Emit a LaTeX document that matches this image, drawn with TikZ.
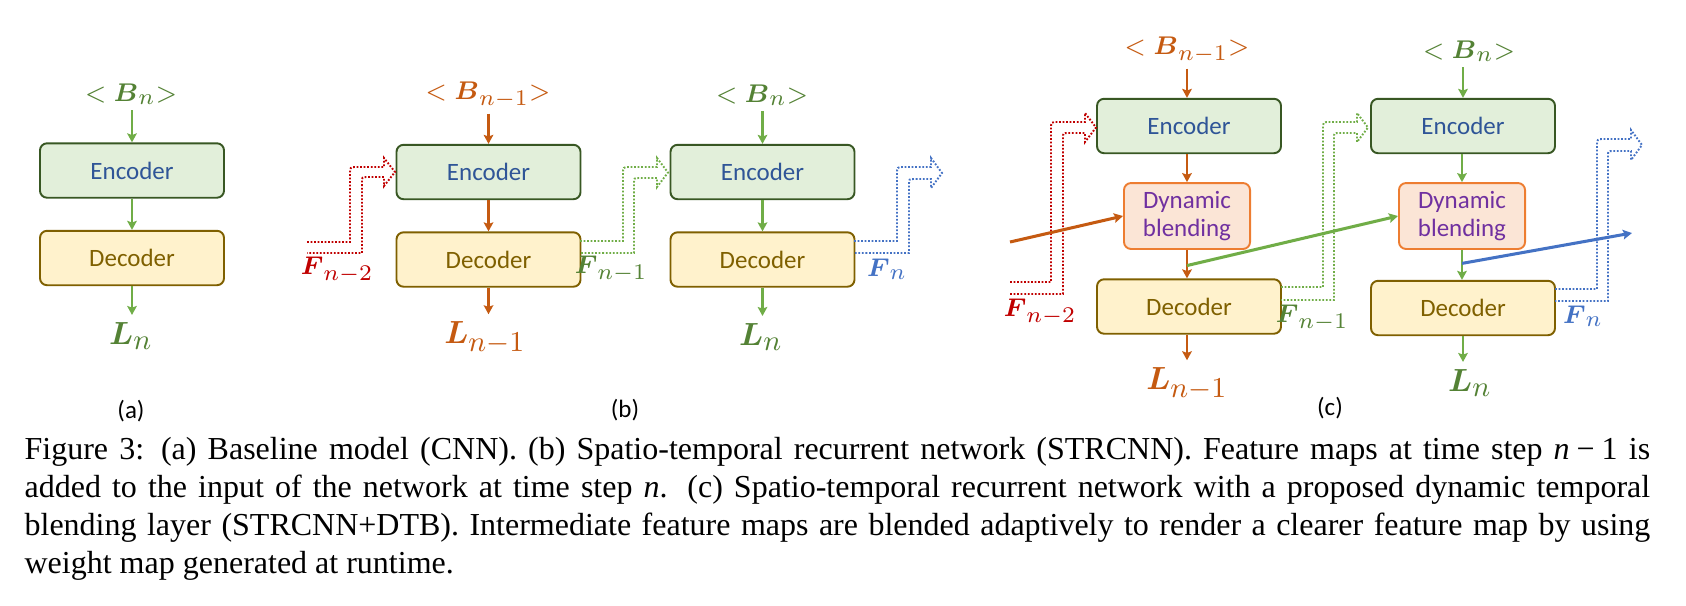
\documentclass[tikz,border=0pt]{standalone}
\usepackage{amsmath}
\usepackage{fontspec}
\newfontfamily\calfont{Carlito}
\newfontfamily\capfont{Liberation Serif}
\DeclareMathSizes{8.4}{8.4}{7}{5.5}
\DeclareMathSizes{10.4}{10.4}{8.6}{6.5}
\DeclareMathSizes{8}{8}{6.8}{5.2}
\usetikzlibrary{arrows.meta,calc}
\definecolor{encfill}{HTML}{E2EFDA}
\definecolor{encdraw}{HTML}{385723}
\definecolor{enctext}{HTML}{2F5597}
\definecolor{decfill}{HTML}{FFF2CC}
\definecolor{decdraw}{HTML}{7F6000}
\definecolor{dectext}{HTML}{7F6000}
\definecolor{dbfill}{HTML}{FBE5D6}
\definecolor{dbdraw}{HTML}{ED7D31}
\definecolor{dbtext}{HTML}{7030A0}
\definecolor{cgreen}{HTML}{70AD47}
\definecolor{lgreen}{HTML}{548235}
\definecolor{corange}{HTML}{C55A11}
\definecolor{cred}{HTML}{C00000}
\definecolor{cblue}{HTML}{4472C4}
\newcommand\bentarr[9]{%
  \draw[fdot,#1] (#2,#3) -- (#5,#3) -- (#5,{#7+7}) .. controls (#5,#7) .. ({#5+7},#7)
    -- (#9,#7) -- (#9,{#7-9}) -- ({#9+11},{(#7+#8)/2}) -- (#9,{#8+9}) -- (#9,#8)
    -- ({#6+5},#8) .. controls (#6,#8) .. (#6,{#8+5}) -- (#6,#4) -- (#2,#4);}
\begin{document}
\begin{tikzpicture}[x=0.3125pt,y=-0.3125pt,
  boxbase/.style={rounded corners=2.2pt, line width=0.6pt, inner sep=0pt,
    font=\calfont\fontsize{7.8}{8.8}\selectfont},
  enc/.style={boxbase, draw=encdraw, fill=encfill, text=enctext, minimum width=57.5pt, minimum height=17pt},
  dec/.style={boxbase, draw=decdraw, fill=decfill, text=dectext, minimum width=57.5pt, minimum height=17pt},
  dbl/.style={boxbase, draw=dbdraw, fill=dbfill, text=dbtext, minimum width=39.4pt, minimum height=20.6pt, align=center},
  labB/.style={inner sep=1.6pt, font=\fontsize{8.4}{9}\selectfont},
  labL/.style={inner sep=2.2pt, font=\fontsize{10.4}{11}\selectfont},
  labF/.style={inner sep=0pt, font=\fontsize{8}{9}\selectfont},
  sub/.style={inner sep=0pt, font=\calfont\fontsize{7.8}{9}\selectfont},
  arr/.style={-{Stealth[length=2.8pt,width=3pt,inset=0.5pt]}, line width=0.85pt},
  fdot/.style={line width=0.6pt, dash pattern=on 0.55pt off 0.55pt},
  capline/.style={anchor=base west, inner sep=0pt, font=\capfont\fontsize{10}{12}\selectfont}
]
\useasboundingbox (0,0) rectangle (1686,605);

% ---------- (a) ----------
\node[labB, text=lgreen] (aB) at (131,94) {$<\boldsymbol{B}_n{>}$};
\node[enc] (aE) at (132,170.5) {Encoder};
\node[dec] (aD) at (132,258) {Decoder};
\node[labL, text=lgreen] (aL) at (131,336) {$\boldsymbol{L}_n$};
\node[sub] (acap) at (131,411) {(a)};
\draw[arr, cgreen] (aE.north |- aB.south) -- (aE.north);
\draw[arr, cgreen] (aE.south) -- (aD.north);
\draw[arr, cgreen] (aD.south) -- (aD.south |- aL.north);

% ---------- (b) left ----------
\node[labB, text=corange] (b1B) at (488,95) {$<\boldsymbol{B}_{n-1}{>}$};
\node[enc] (b1E) at (488.5,172) {Encoder};
\node[dec] (b1D) at (488.5,259.5) {Decoder};
\node[labL, text=corange] (b1L) at (485,338) {$\boldsymbol{L}_{n-1}$};
\draw[arr, corange] (b1E.north |- b1B.south) -- (b1E.north);
\draw[arr, corange] (b1E.south) -- (b1D.north);
\draw[arr, corange] (b1D.south) -- (b1D.south |- b1L.north);

% ---------- (b) right ----------
\node[labB, text=lgreen] (b2B) at (762,95) {$<\boldsymbol{B}_n{>}$};
\node[enc] (b2E) at (762.5,172) {Encoder};
\node[dec] (b2D) at (762.5,259.5) {Decoder};
\node[labL, text=lgreen] (b2L) at (761,337) {$\boldsymbol{L}_n$};
\draw[arr, cgreen] (b2E.north |- b2B.south) -- (b2E.north);
\draw[arr, cgreen] (b2E.south) -- (b2D.north);
\draw[arr, cgreen] (b2D.south) -- (b2D.south |- b2L.north);
\node[sub] (bcap) at (625,410) {(b)};

% dotted feature arrows (b)
\bentarr{cred}{307}{242}{253}{350}{362}{167}{177}{384}
\bentarr{cgreen}{580}{241}{253}{623}{634}{167}{178}{657}
\bentarr{cblue}{854}{241}{253}{897}{909}{167}{179}{931}
\node[labF, text=cred] (bF2) at (337,270) {$\boldsymbol{F}_{n-2}$};
\node[labF, text=lgreen] (bF1) at (611,269) {$\boldsymbol{F}_{n-1}$};
\node[labF, text=cblue] (bF0) at (887,269) {$\boldsymbol{F}_{n}$};

% ---------- (c) left ----------
\node[labB, text=corange] (c1B) at (1187,50) {$<\boldsymbol{B}_{n-1}{>}$};
\node[enc] (c1E) at (1189,126) {Encoder};
\node[dbl] (c1M) at (1187,216) {Dynamic\\blending};
\node[dec] (c1D) at (1189,306.5) {Decoder};
\node[labL, text=corange] (c1L) at (1187,384) {$\boldsymbol{L}_{n-1}$};
\draw[arr, corange] (c1M.north |- c1B.south) -- (c1M.north |- c1E.north);
\draw[arr, corange] (c1M.north |- c1E.south) -- (c1M.north);
\draw[arr, corange] (c1M.south) -- (c1M.south |- c1D.north);
\draw[arr, corange] (c1M.south |- c1D.south) -- (c1M.south |- c1L.north);
\coordinate (j1) at ($(c1M.south)!0.55!(c1M.south |- c1D.north)$);

% ---------- (c) right ----------
\node[labB, text=lgreen] (c2B) at (1469,51) {$<\boldsymbol{B}_n{>}$};
\node[enc] (c2E) at (1463,126) {Encoder};
\node[dbl] (c2M) at (1462,216) {Dynamic\\blending};
\node[dec] (c2D) at (1463,308) {Decoder};
\node[labL, text=lgreen] (c2L) at (1470,383) {$\boldsymbol{L}_n$};
\draw[arr, cgreen] (c2E.north |- c2B.south) -- (c2E.north);
\draw[arr, cgreen] (c2M.north |- c2E.south) -- (c2M.north);
\draw[arr, cgreen] (c2M.south) -- (c2M.south |- c2D.north);
\draw[arr, cgreen] (c2D.south) -- (c2D.south |- c2L.north);
\coordinate (j2) at ($(c2M.south)!0.45!(c2M.south |- c2D.north)$);
\node[sub] (ccap) at (1330,408) {(c)};

% dotted feature arrows (c)
\bentarr{cred}{1010}{282}{294}{1051}{1063}{122}{133}{1085}
\bentarr{cgreen}{1281}{287}{300}{1323}{1334}{122}{133}{1357}
\bentarr{cblue}{1555}{289}{301}{1597}{1608}{139}{151}{1631}
\node[labF, text=cred] (cF2) at (1040,312) {$\boldsymbol{F}_{n-2}$};
\node[labF, text=lgreen] (cF1) at (1312,318) {$\boldsymbol{F}_{n-1}$};
\node[labF, text=cblue] (cF0) at (1583,316) {$\boldsymbol{F}_{n}$};

% solid blending connectors
\coordinate (o0) at (1010,242);
\coordinate (bl) at (1632,233);
\draw[arr, corange, line width=0.95pt] (o0) -- (c1M.west);
\draw[arr, cgreen, line width=0.95pt] (j1) -- (c2M.west);
\draw[arr, cblue, line width=0.95pt] (j2) -- (bl);

% ---------- caption ----------
\node[capline] (cap1) at (24,459) {\hbox to 508pt{Figure 3: (a) Baseline model (CNN). (b) Spatio-temporal recurrent network (STRCNN). Feature maps at time step \textit{n}\hspace{0.22em}−\hspace{0.22em}1 is}};
\node[capline] (cap2) at (24,497) {\hbox to 508pt{added to the input of the network at time step \textit{n}. (c) Spatio-temporal recurrent network with a proposed dynamic temporal}};
\node[capline] (cap3) at (24,535) {\hbox to 508pt{blending layer (STRCNN+DTB). Intermediate feature maps are blended adaptively to render a clearer feature map by using}};
\node[capline] (cap4) at (24,573) {weight map generated at runtime.};
\end{tikzpicture}
\end{document}
